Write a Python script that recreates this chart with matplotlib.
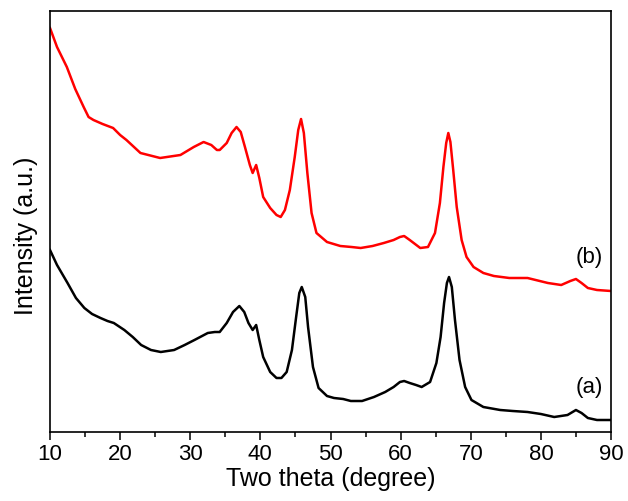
import matplotlib
matplotlib.use('Agg')
import matplotlib.pyplot as plt
from matplotlib.ticker import MultipleLocator

plt.rcParams['font.family'] = ['Liberation Sans', 'DejaVu Sans']

# ── Data (arbitrary intensity units) ─────────────────────────────────────
two_theta_a = [10, 11, 12.5, 13.7, 14.9, 16, 17.2, 18.2, 19.1, 20.6, 21.8, 23, 24.4,
               25.8, 27.7, 29.2, 30.6, 32.5, 33.5, 34.2, 35.2, 36.1, 37.0, 37.7, 38.3,
               38.9, 39.4, 39.85, 40.4, 41.4, 42.3, 43.0, 43.75, 44.5, 45.1, 45.55, 45.9,
               46.4, 46.8, 47.5, 48.3, 49.5, 50.5, 51.8, 52.9, 54.5, 56.2, 57.8, 59,
               59.9, 60.5, 61.3, 62.2, 63.0, 64.2, 65.1, 65.7, 66.2, 66.6, 66.9, 67.3,
               67.75, 68.4, 69.2, 70.1, 71.8, 74.2, 76, 78.1, 80, 81.9, 83.8, 85,
               85.8, 86.7, 88, 90]
intensity_a = [182, 167, 149, 134, 124, 118, 114, 111, 109, 102, 95, 87, 82,
               80, 82, 87, 92, 99, 100, 100, 109, 120, 126, 120, 109,
               102, 107, 92, 75, 60, 54, 54, 60, 82, 115, 139, 145,
               135, 105, 65, 44, 36, 34, 33, 31, 31, 35, 40, 45,
               50, 51, 49, 47, 45, 50, 69, 95, 129, 149, 155, 145,
               112, 72, 45, 32, 25, 22, 21, 20, 18, 15, 17, 22,
               19, 14, 12, 12]

two_theta_b = [10, 11, 12.4, 13.6, 14.8, 15.5, 16.2, 17.5, 19, 20, 20.9, 22.9, 25.7,
               28.6, 30.5, 31.9, 33, 33.8, 34.2, 35.2, 35.9, 36.6, 37.2, 37.8, 38.5,
               38.9, 39.4, 39.85, 40.4, 41.4, 42.3, 42.9, 43.5, 44.2, 44.9, 45.4, 45.8,
               46.2, 46.7, 47.3, 48.0, 49.5, 51.4, 53, 54.3, 56, 57.6, 59, 59.9,
               60.5, 61.3, 62.8, 63.9, 64.9, 65.6, 66.1, 66.5, 66.8, 67.1, 67.5, 68.0,
               68.7, 69.4, 70.4, 71.8, 73.3, 75.5, 78.1, 81, 82.9, 84.2, 85, 85.8,
               86.7, 88, 90]
intensity_b = [404, 385, 365, 343, 325, 315, 312, 308, 304, 297, 292, 279, 274,
               277, 285, 290, 287, 282, 282, 289, 299, 305, 300, 285, 267,
               259, 267, 254, 235, 224, 217, 215, 222, 242, 275, 302, 313,
               299, 259, 219, 199, 190, 186, 185, 184, 186, 189, 192, 195,
               196, 192, 184, 185, 199, 229, 265, 289, 299, 290, 262, 225,
               192, 175, 165, 159, 156, 154, 154, 149, 147, 151, 153, 149,
               144, 142, 141]

curve_labels = ['(a)', '(b)']
label_pos = [(86.9, 44), (86.9, 174)]

# ── Plot ─────────────────────────────────────────────────────────────────
fig = plt.figure(figsize=(6.28, 5.01), dpi=100)
ax = fig.add_axes([50 / 628, 69 / 501, 561 / 628, 421 / 501])

ax.plot(two_theta_a, intensity_a, color='black', lw=1.8)
ax.plot(two_theta_b, intensity_b, color='#ff0000', lw=1.8)

for txt, (x, y) in zip(curve_labels, label_pos):
    ax.text(x, y, txt, fontsize=16, ha='center', va='center')

ax.set_xlim(10, 90)
ax.set_ylim(0, 421)
ax.xaxis.set_major_locator(MultipleLocator(10))
ax.xaxis.set_minor_locator(MultipleLocator(5))
ax.tick_params(axis='x', which='major', direction='out', length=6, width=1.1,
               labelsize=16, top=False, pad=3)
ax.tick_params(axis='x', which='minor', direction='out', length=3.5, width=1.1, top=False)
ax.set_yticks([])
for s in ax.spines.values():
    s.set_linewidth(1.2)

ax.set_xlabel('Two theta (degree)', fontsize=18, labelpad=1)
ax.set_ylabel('Intensity (a.u.)', fontsize=18)
# label sits a bit below the axes centre in the original
ax.yaxis.set_label_coords(-0.022, 0.465)

fig.savefig('out.png', dpi=100)
